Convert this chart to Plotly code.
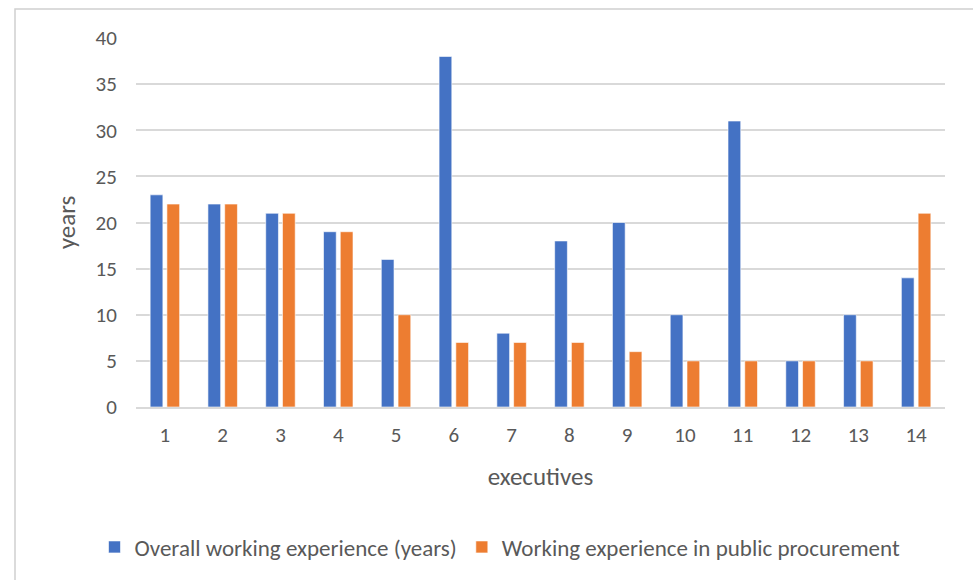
import plotly.graph_objects as go

executives = [str(i) for i in range(1, 15)]
overall = [23, 22, 21, 19, 16, 38, 8, 18, 20, 10, 31, 5, 10, 14]
public_proc = [22, 22, 21, 19, 10, 7, 7, 7, 6, 5, 5, 5, 5, 21]
y_ticks = [0, 5, 10, 15, 20, 25, 30, 35, 40]

W, H = 973, 580
L, R, T, B = 136, 28, 38, 173
pw, ph = W - L - R, H - T - B

def px_x(x):
    return (x - L) / pw

def px_y(y):
    return (H - B - y) / ph

FONT = "Calibri, Carlito, Lato, 'Open Sans', sans-serif"
GRAY = "#595959"

fig = go.Figure()
fig.add_trace(go.Bar(x=executives, y=overall, name="Overall working experience (years)",
                     marker=dict(color="#4472C4", line=dict(color="rgba(255,255,255,0.6)", width=1))))
fig.add_trace(go.Bar(x=executives, y=public_proc, name="Working experience in public procurement",
                     marker=dict(color="#ED7D31", line=dict(color="rgba(255,255,255,0.6)", width=1))))

fig.update_layout(
    width=W, height=H,
    margin=dict(l=L, r=R, t=T, b=B),
    paper_bgcolor="white", plot_bgcolor="white",
    barmode="group", bargap=0.42, bargroupgap=0.24,
    font=dict(family=FONT, size=21, color=GRAY),
    showlegend=True,
    legend=dict(orientation="h", x=px_x(500), xanchor="center", y=px_y(547), yanchor="middle",
                font=dict(size=23, color=GRAY), itemwidth=30, traceorder="normal",
                bgcolor="rgba(0,0,0,0)"),
    xaxis=dict(type="category", showgrid=False, showline=True, linecolor="#d9d9d9", linewidth=1.5,
               ticks="outside", ticklen=8, tickcolor="rgba(0,0,0,0)",
               tickfont=dict(size=21, color=GRAY),
               title=dict(text="executives", font=dict(size=25, color=GRAY), standoff=21)),
    yaxis=dict(range=[0, 40], tickvals=y_ticks, showgrid=True, gridcolor="#d9d9d9", gridwidth=1.5,
               zeroline=False, showline=False,
               ticks="outside", ticklen=14, tickcolor="rgba(0,0,0,0)",
               tickfont=dict(size=21, color=GRAY),
               title=dict(text="years", font=dict(size=25, color=GRAY), standoff=12)),
    shapes=[dict(type="rect", xref="paper", yref="paper",
                 x0=px_x(15), x1=px_x(990), y0=px_y(600), y1=px_y(9),
                 line=dict(color="#d0d0d0", width=1.5), fillcolor="rgba(0,0,0,0)", layer="below")],
)

fig.write_html("out.html")
